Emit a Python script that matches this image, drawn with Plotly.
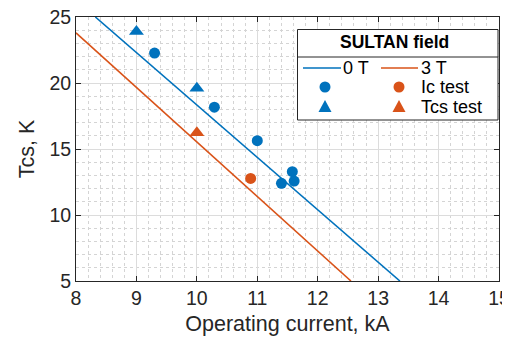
import plotly.graph_objects as go

BLUE = "#0072BD"
ORANGE = "#D95319"

# Tcs lines (endpoints)
line0_x = [8.32, 13.36]
line0_y = [25.0, 5.0]
line3_x = [8.0, 12.55]
line3_y = [23.8, 5.0]

# 0 T measurements
ic0_x = [9.30, 10.29, 11.00, 11.40, 11.58, 11.61]
ic0_y = [22.27, 18.17, 15.63, 12.40, 13.28, 12.57]
tcs0_x = [9.0, 10.0]
tcs0_y = [23.9, 19.6]

# 3 T measurements
ic3_x = [10.89]
ic3_y = [12.77]
tcs3_x = [10.0]
tcs3_y = [16.24]

x_ticks = [8, 9, 10, 11, 12, 13, 14, 15]
y_ticks = [5, 10, 15, 20, 25]

FONT = "Liberation Sans, Arial, sans-serif"
AX = "#262626"

fig = go.Figure()
fig.add_trace(go.Scatter(x=line0_x, y=line0_y, mode="lines",
                         line=dict(color=BLUE, width=1.6), showlegend=False))
fig.add_trace(go.Scatter(x=line3_x, y=line3_y, mode="lines",
                         line=dict(color=ORANGE, width=1.6), showlegend=False))
fig.add_trace(go.Scatter(x=ic0_x, y=ic0_y, mode="markers",
                         marker=dict(color=BLUE, size=11, symbol="circle"), showlegend=False))
fig.add_trace(go.Scatter(x=tcs0_x, y=tcs0_y, mode="markers",
                         marker=dict(color=BLUE, size=13, symbol="triangle-up"), showlegend=False))
fig.add_trace(go.Scatter(x=ic3_x, y=ic3_y, mode="markers",
                         marker=dict(color=ORANGE, size=11, symbol="circle"), showlegend=False))
fig.add_trace(go.Scatter(x=tcs3_x, y=tcs3_y, mode="markers",
                         marker=dict(color=ORANGE, size=13, symbol="triangle-up"), showlegend=False))

# page body has an 8px margin: the figure is offset by (8, 8)
OFF = 8
W, H = 510 - OFF, 340 - OFF
L, R, T, B = 76 - OFF, 11, 17 - OFF, 59
pw, ph = W - L - R, H - T - B

def px(x):
    return (x - OFF - L) / pw

def py(y):
    return 1 - (y - OFF - T) / ph

shapes = []
annotations = []
# legend box
shapes.append(dict(type="rect", xref="paper", yref="paper",
                   x0=px(297.5), x1=px(498), y0=py(120), y1=py(29.5),
                   line=dict(color=AX, width=1), fillcolor="white", layer="above"))
shapes.append(dict(type="line", xref="paper", yref="paper",
                   x0=px(297.5), x1=px(498), y0=py(57), y1=py(57),
                   line=dict(color=AX, width=1), layer="above"))
annotations.append(dict(text="<b>SULTAN field</b>", xref="paper", yref="paper",
                        x=px(394), y=py(42), xanchor="center", yanchor="middle",
                        showarrow=False,
                        font=dict(size=17.5, color="black", family=FONT)))
# row 1: lines
shapes.append(dict(type="line", xref="paper", yref="paper",
                   x0=px(303), x1=px(341), y0=py(68), y1=py(68),
                   line=dict(color=BLUE, width=1.6), layer="above"))
shapes.append(dict(type="line", xref="paper", yref="paper",
                   x0=px(381), x1=px(418), y0=py(68), y1=py(68),
                   line=dict(color=ORANGE, width=1.6), layer="above"))

def label(text, x, y):
    annotations.append(dict(text=text, xref="paper", yref="paper", x=px(x), y=py(y),
                            xanchor="left", yanchor="middle", showarrow=False,
                            xshift=-1,
                            font=dict(size=18, color="black", family=FONT)))

label("0 T", 342, 68)
label("3 T", 420, 68)
# row 2: circles
for cx, col in [(325, BLUE), (399, ORANGE)]:
    r = 5.5
    shapes.append(dict(type="circle", xref="paper", yref="paper",
                       x0=px(cx - r), x1=px(cx + r), y0=py(87 + r), y1=py(87 - r),
                       line=dict(color=col, width=0), fillcolor=col, layer="above"))
label("Ic test", 420, 87)
# row 3: triangles
for cx, col in [(325, BLUE), (399, ORANGE)]:
    cy = 106.5
    path = "M {} {} L {} {} L {} {} Z".format(
        px(cx - 6.5), py(cy + 5.5), px(cx + 6.5), py(cy + 5.5), px(cx), py(cy - 6.5))
    shapes.append(dict(type="path", xref="paper", yref="paper", path=path,
                       line=dict(color=col, width=0), fillcolor=col, layer="above"))
label("Tcs test", 420, 106.5)

axis_common = dict(
    showline=True, linecolor=AX, linewidth=1, mirror="ticks",
    ticks="inside", ticklen=5, tickcolor=AX, tickwidth=1,
    showgrid=True, gridcolor="#dcdcdc", gridwidth=1,
    zeroline=False, automargin=False, ticklabeloverflow="allow",
    tickfont=dict(size=19.5, color=AX, family=FONT),
)

fig.update_layout(
    width=W, height=H,
    margin=dict(l=L, r=R, t=T, b=B, autoexpand=False),
    paper_bgcolor="white", plot_bgcolor="white",
    font=dict(family=FONT),
    showlegend=False,
    xaxis=dict(range=[8, 15], tickvals=x_ticks, ticktext=[str(v) for v in x_ticks],
               title=dict(text="Operating current, kA", standoff=7,
                          font=dict(size=21.5, color=AX, family=FONT)),
               minor=dict(dtick=0.2, showgrid=True, gridcolor="#d4d4d4", griddash="dot", ticks=""),
               **axis_common),
    yaxis=dict(range=[5, 25], tickvals=y_ticks, ticktext=[str(v) for v in y_ticks],
               title=dict(text="Tcs, K", standoff=8,
                          font=dict(size=21.5, color=AX, family=FONT)),
               minor=dict(dtick=1, showgrid=True, gridcolor="#d4d4d4", griddash="dot", ticks=""),
               **axis_common),
    shapes=shapes,
    annotations=annotations,
)

fig.write_html("out.html")
